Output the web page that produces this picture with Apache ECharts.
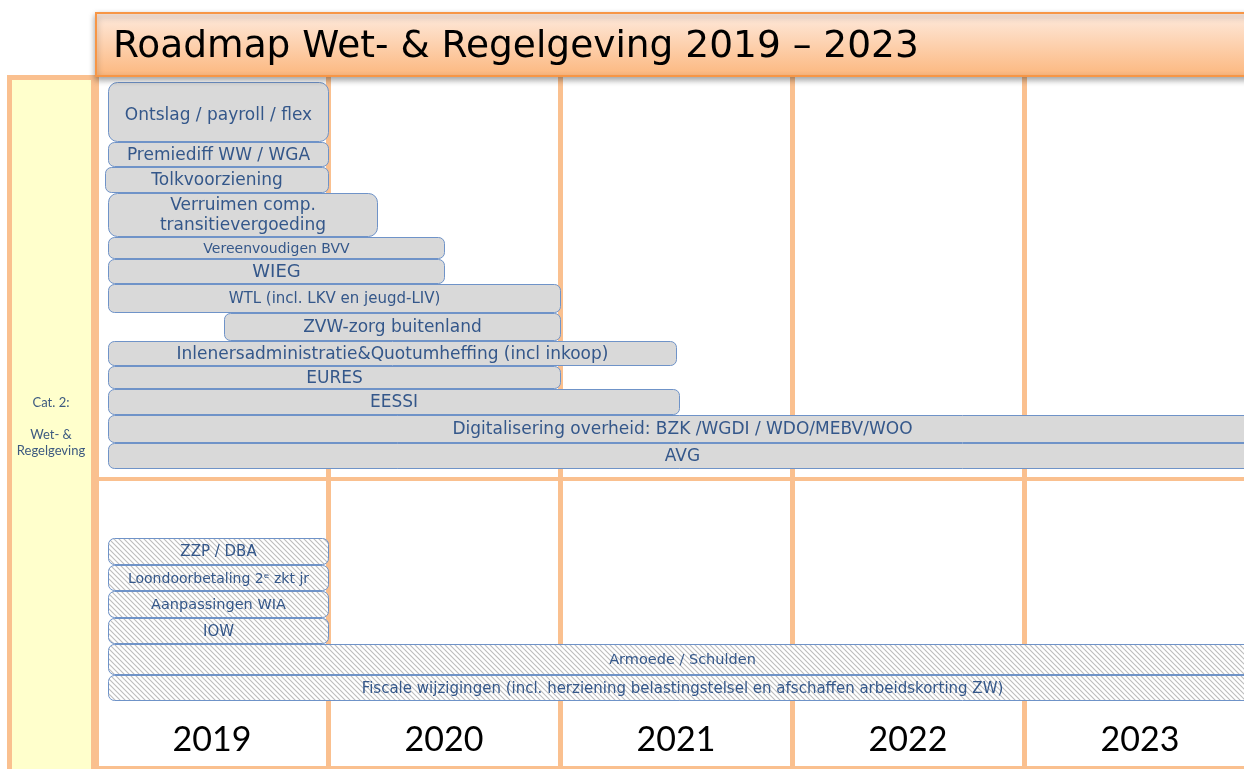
<!DOCTYPE html>
<html><head><meta charset="utf-8">
<script src="https://cdn.jsdelivr.net/npm/echarts@6/dist/echarts.min.js"></script>
<style>html,body{margin:0;padding:0;background:#fff}#c{width:1244px;height:769px}</style>
</head><body><div id="c"></div>
<script>
// ---------- DATA ----------
const title = 'Roadmap Wet- & Regelgeving 2019 \u2013 2023';
const categoryLabel = 'Cat. 2:\n\nWet- &\nRegelgeving';
const years = ['2019', '2020', '2021', '2022', '2023'];
const tasks = [
  'Ontslag / payroll / flex',
  'Premiediff WW / WGA',
  'Tolkvoorziening',
  'Verruimen comp.\ntransitievergoeding',
  'Vereenvoudigen BVV',
  'WIEG',
  'WTL (incl. LKV en jeugd-LIV)',
  'ZVW-zorg buitenland',
  'Inlenersadministratie&Quotumheffing (incl inkoop)',
  'EURES',
  'EESSI',
  'Digitalisering overheid: BZK /WGDI / WDO/MEBV/WOO',
  'AVG',
  'ZZP / DBA',
  'Loondoorbetaling 2\u1D49 zkt jr',
  'Aanpassingen WIA',
  'IOW',
  'Armoede / Schulden',
  'Fiscale wijzigingen (incl. herziening belastingstelsel en afschaffen arbeidskorting ZW)'
];
const starts = [2019.05, 2019.05, 2019.04, 2019.05, 2019.05, 2019.05, 2019.05, 2019.55, 2019.05, 2019.05,
                2019.05, 2019.05, 2019.05, 2019.05, 2019.05, 2019.05, 2019.05, 2019.05, 2019.05];
const ends   = [2020.0, 2020.0, 2020.0, 2020.21, 2020.5, 2020.5, 2021.0, 2021.0, 2021.5, 2021.0,
                2021.51, 2024.0, 2024.0, 2020.0, 2020.0, 2020.0, 2020.0, 2024.0, 2024.0];
const groups = [1, 1, 1, 1, 1, 1, 1, 1, 1, 1, 1, 1, 1, 2, 2, 2, 2, 2, 2];

// ---------- LAYOUT (not data) ----------
const rowSpans = [59, 24, 25, 43, 21, 24, 28, 27, 24, 22, 25, 27, 25, 26, 25, 26, 25, 30, 25];
const groupTop = { 1: 7, 2: 463 };
const rowGap = 1;
const labelSizes = [17, 17, 17, 17, 14, 18, 15, 17, 17, 17, 17, 17, 17, 15, 14, 14.5, 15, 14.5, 15];
const labelShift = [3, 0, 0, 0, 0, 0, 0, 0, 0, 0, 0, 0, 0, 0, 0, 0, 0, 0, 0];
const laneHeight = 694;
const separators = [404, 693];

const tops = [];
(function () {
  const cursor = Object.assign({}, groupTop);
  for (let i = 0; i < tasks.length; i++) {
    const g = groups[i];
    tops.push(cursor[g]);
    cursor[g] += rowSpans[i] + rowGap;
  }
})();

// hatch pattern
const tile = document.createElement('canvas');
tile.width = 5; tile.height = 5;
(function () {
  const c = tile.getContext('2d');
  c.fillStyle = '#ffffff'; c.fillRect(0, 0, 5, 5);
  c.strokeStyle = '#BDBDBD'; c.lineWidth = 1.1;
  c.beginPath();
  c.moveTo(-1, -1); c.lineTo(6, 6);
  c.moveTo(-1, 4); c.lineTo(1, 6);
  c.moveTo(4, -1); c.lineTo(6, 1);
  c.stroke();
})();
const hatch = { image: tile, repeat: 'repeat' };

const ORANGE = '#FAC08F';
const TEXT = '#34578A';

const chart = echarts.init(document.getElementById('c'), null, { renderer: 'canvas' });
chart.setOption({
  animation: false,
  backgroundColor: '#ffffff',
  grid: { left: 96, top: 75, width: 1160, height: 694, outerBoundsMode: 'none', containLabel: false },
  xAxis: [
    { type: 'value', min: 2019, max: 2024, interval: 1,
      axisLabel: { show: false }, axisLine: { show: false }, axisTick: { show: false },
      splitLine: { show: true, lineStyle: { color: ORANGE, width: 5 } } },
    { type: 'category', data: years, position: 'bottom', boundaryGap: true,
      axisLine: { show: false }, axisTick: { show: false }, splitLine: { show: false },
      axisLabel: { inside: true, margin: 12, fontSize: 34, lineHeight: 34,
        fontFamily: 'Lato, sans-serif', color: '#000' } }
  ],
  yAxis: { type: 'value', inverse: true, min: 0, max: laneHeight, show: false, splitLine: { show: false } },
  graphic: [
    { type: 'rect', z: 1, shape: { x: 9.5, y: 77.5, width: 84, height: 720 },
      style: { fill: '#FFFFCC', stroke: ORANGE, lineWidth: 5 } },
    { type: 'text', z: 2, x: 51, y: 427,
      style: { text: categoryLabel, align: 'center', verticalAlign: 'middle', textAlign: 'center', textVerticalAlign: 'middle',
        font: '13px Lato, "Open Sans", sans-serif', lineHeight: 16, fill: '#3D5A80' } },
    { type: 'rect', z: 10, shape: { x: 96, y: 13, width: 1170, height: 63 },
      style: { fill: new echarts.graphic.LinearGradient(0, 0, 0, 1, [
          { offset: 0, color: '#FEEBDF' }, { offset: 1, color: '#FCB77E' }]),
        stroke: '#F79646', lineWidth: 2,
        shadowBlur: 6, shadowOffsetY: 3, shadowColor: 'rgba(0,0,0,0.35)' } },
    { type: 'text', z: 11, x: 113, y: 47,
      style: { text: title, align: 'left', verticalAlign: 'middle', textAlign: 'left', textVerticalAlign: 'middle',
        font: '37.5px "DejaVu Sans", sans-serif', fill: '#000' } }
  ],
  series: [{
    type: 'custom',
    xAxisIndex: 0, yAxisIndex: 0,
    clip: true,
    encode: { x: [0, 1], y: [2, 3] },
    data: tasks.map((t, i) => [starts[i], ends[i], tops[i], tops[i] + rowSpans[i], i]),
    renderItem: function (params, api) {
      const i = api.value(4);
      const p0 = api.coord([api.value(0), api.value(2)]);
      const p1 = api.coord([api.value(1), api.value(3)]);
      const x = Math.round(p0[0]) + 0.5, y = Math.round(p0[1]) + 0.5;
      const w = Math.round(p1[0] - p0[0]), h = Math.round(p1[1] - p0[1]);
      const fs = labelSizes[i];
      return {
        type: 'group',
        children: [
          { type: 'rect', shape: { x: x, y: y, width: w, height: h, r: groups[i] === 1 && h > 40 ? 9 : 6 },
            style: { fill: groups[i] === 2 ? hatch : '#D9D9D9', stroke: '#6F93C8', lineWidth: 1 } },
          { type: 'text',
            style: { text: tasks[i], x: x + w / 2, y: y + h / 2 + 1 + labelShift[i], align: 'center', verticalAlign: 'middle',
              font: fs + 'px "DejaVu Sans", sans-serif', lineHeight: fs + 3, fill: TEXT } }
        ]
      };
    },
    markLine: {
      silent: true, symbol: 'none', label: { show: false },
      lineStyle: { color: ORANGE, width: 4, type: 'solid' },
      emphasis: { disabled: true },
      data: separators.map(v => ({ yAxis: v }))
    }
  }]
});
</script>
</body></html>
